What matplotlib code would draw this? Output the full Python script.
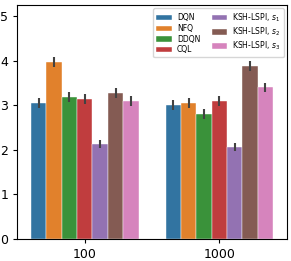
import colorsys
import matplotlib
matplotlib.use('Agg')
import matplotlib.pyplot as plt
import matplotlib.colors as mcolors
import numpy as np

groups = ['100', '1000']
methods = ['DQN', 'NFQ', 'DDQN', 'CQL',
           'KSH-LSPI, $s_1$', 'KSH-LSPI, $s_2$', 'KSH-LSPI, $s_3$']
means = {
    'DQN': [3.06, 3.01],
    'NFQ': [3.97, 3.05],
    'DDQN': [3.19, 2.81],
    'CQL': [3.15, 3.09],
    'KSH-LSPI, $s_1$': [2.14, 2.07],
    'KSH-LSPI, $s_2$': [3.28, 3.89],
    'KSH-LSPI, $s_3$': [3.09, 3.41],
}
errs = {
    'DQN': [0.11, 0.11],
    'NFQ': [0.11, 0.11],
    'DDQN': [0.12, 0.11],
    'CQL': [0.11, 0.11],
    'KSH-LSPI, $s_1$': [0.09, 0.09],
    'KSH-LSPI, $s_2$': [0.12, 0.11],
    'KSH-LSPI, $s_3$': [0.11, 0.1],
}


def desat(c, prop=0.75):
    r, g, b = mcolors.to_rgb(c)
    h, l, s = colorsys.rgb_to_hls(r, g, b)
    return colorsys.hls_to_rgb(h, l, s * prop)


colors = [desat(f'C{i}') for i in range(len(methods))]

fig, ax = plt.subplots(figsize=(2.91, 2.61), dpi=100)
fig.subplots_adjust(left=0.06, right=0.985, top=0.98, bottom=0.085)

x = np.arange(len(groups))
w = 0.8 / len(methods)
for i, m in enumerate(methods):
    pos = x - 0.4 + w * (i + 0.5)
    ax.bar(pos, means[m], width=w, color=colors[i], label=m,
           edgecolor='white', linewidth=0.3)
    ax.errorbar(pos, means[m], yerr=errs[m], fmt='none',
                ecolor='#424242', elinewidth=1.5, capsize=0)

ax.set_xticks(x)
ax.set_xticklabels(groups, fontsize=9)
ax.set_xlim(-0.5, 1.5)
ax.set_ylim(0, 5.25)
ax.set_yticks([0, 1, 2, 3, 4, 5])
ax.tick_params(axis='y', labelsize=9)
ax.tick_params(length=3)
ax.legend(ncol=2, fontsize=5.5, loc='upper right', handlelength=2.0,
          handletextpad=0.7, columnspacing=1.5, labelspacing=0.22,
          borderaxespad=0.4)

plt.savefig('out.png', dpi=100)
